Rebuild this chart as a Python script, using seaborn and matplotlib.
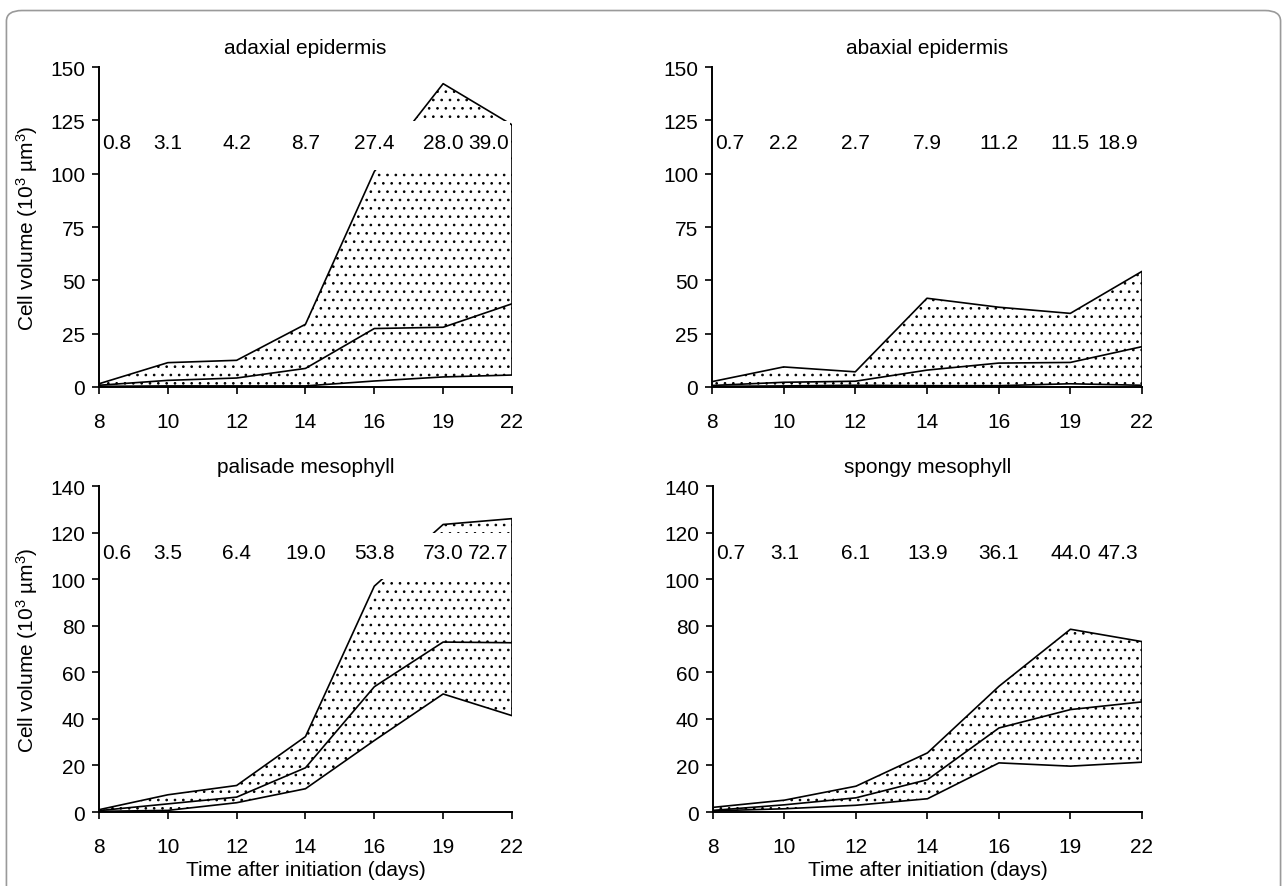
import numpy as np
import pandas as pd
import matplotlib
matplotlib.use('Agg')
import matplotlib.pyplot as plt
from matplotlib.patches import FancyBboxPatch
import seaborn as sns

# ─── data ────────────────────────────────────────────────
days = ["8", "10", "12", "14", "16", "19", "22"]

adaxial_upper = [1.5, 11.4, 12.5, 29.4, 101.0, 142.2, 122.9]
adaxial_median = [0.8, 3.1, 4.2, 8.7, 27.4, 28.0, 39.0]
adaxial_lower = [0.3, 0.5, 0.5, 0.5, 2.8, 4.7, 5.6]

abaxial_upper = [2.5, 9.4, 7.1, 41.6, 37.4, 34.5, 54.2]
abaxial_median = [0.7, 2.2, 2.7, 7.9, 11.2, 11.5, 18.9]
abaxial_lower = [0.3, 0.5, 0.8, 0.6, 0.6, 1.5, 0.8]

palisade_upper = [1.0, 7.4, 11.4, 32.4, 97.0, 123.5, 126.0]
palisade_median = [0.6, 3.5, 6.4, 19.0, 53.8, 73.0, 72.7]
palisade_lower = [0.3, 0.7, 4.0, 10.0, 30.7, 50.7, 41.4]

spongy_upper = [2.0, 5.1, 11.1, 25.4, 54.0, 78.5, 73.2]
spongy_median = [0.7, 3.1, 6.1, 13.9, 36.1, 44.0, 47.3]
spongy_lower = [0.5, 1.4, 2.9, 5.7, 21.1, 19.7, 21.4]

titles = ["adaxial epidermis", "abaxial epidermis", "palisade mesophyll", "spongy mesophyll"]

# ─── style ───────────────────────────────────────────────
sns.set_theme(style="ticks")
plt.rcParams['font.family'] = ['Liberation Sans', 'DejaVu Sans']
plt.rcParams['mathtext.fontset'] = 'custom'
plt.rcParams['mathtext.rm'] = 'Liberation Sans'
plt.rcParams['mathtext.it'] = 'Liberation Sans'
plt.rcParams['hatch.linewidth'] = 0.7
plt.rcParams['hatch.color'] = 'black'
for key in ['text.color', 'axes.labelcolor', 'xtick.color', 'ytick.color']:
    plt.rcParams[key] = 'black'

FS = 15

fig = plt.figure(figsize=(12.87, 8.87), dpi=100)
fig.patches.append(FancyBboxPatch((0.005, -0.05), 0.99, 1.037, boxstyle="round,pad=0,rounding_size=0.012",
                                  transform=fig.transFigure, facecolor='none',
                                  edgecolor='#9a9a9a', linewidth=1.2))

positions = [
    [0.0769, 0.5626, 0.3209, 0.3607],
    [0.5532, 0.5626, 0.3341, 0.3607],
    [0.0769, 0.0834, 0.3209, 0.3675],
    [0.5540, 0.0834, 0.3333, 0.3675],
]
panels = [
    (adaxial_upper, adaxial_median, adaxial_lower, 150, 25, (101.5, 124.5), 114.8),
    (abaxial_upper, abaxial_median, abaxial_lower, 150, 25, (101.5, 124.5), 114.8),
    (palisade_upper, palisade_median, palisade_lower, 140, 20, (100.0, 120.0), 111.4),
    (spongy_upper, spongy_median, spongy_lower, 140, 20, (100.0, 120.0), 111.4),
]

for k, (pos, (up, med, lo, ymax, ystep, band, label_y)) in enumerate(zip(positions, panels)):
    ax = fig.add_axes(pos)
    df = pd.DataFrame({"pos": np.arange(len(days)), "upper": up, "median": med, "lower": lo})

    ax.fill_between(df["pos"], df["lower"], df["upper"], facecolor='white',
                    edgecolor='black', hatch='..', linewidth=0, zorder=1)
    for col in ["upper", "median", "lower"]:
        sns.lineplot(data=df, x="pos", y=col, ax=ax, color='black', linewidth=1.2, zorder=2)

    # white strip behind the value labels
    ax.axhspan(band[0], band[1], xmin=0.005, xmax=0.995, color='white', zorder=2.2, linewidth=0)
    last = df.iloc[-1]
    ax.vlines(last["pos"], last["lower"], last["upper"], color='black', linewidth=1.2, zorder=2.3)

    n = len(days)
    for i, v in enumerate(med):
        ha = 'left' if i == 0 else ('right' if i == n - 1 else 'center')
        dx = 0.05 if i == 0 else (-0.05 if i == n - 1 else 0)
        ax.text(i + dx, label_y, f"{v:.1f}", ha=ha, va='center', fontsize=FS, zorder=3)

    ax.set_xlim(0, n - 1)
    ax.set_ylim(0, ymax)
    ax.set_xticks(np.arange(n))
    ax.set_xticklabels(days)
    ax.set_yticks(np.arange(0, ymax + 1, ystep))
    ax.tick_params(axis='x', length=5, width=1.2, pad=13, labelsize=FS)
    ax.tick_params(axis='y', length=5, width=1.2, pad=5, labelsize=FS)
    for s in ['left', 'bottom']:
        ax.spines[s].set_linewidth(1.4)
        ax.spines[s].set_color('black')
    sns.despine(ax=ax)
    ax.set_title(titles[k], fontsize=FS, pad=10)

    ax.set_xlabel("Time after initiation (days)" if k >= 2 else "", fontsize=FS, labelpad=3)
    ax.set_ylabel("Cell volume (10$^{3}$ µm$^{3}$)" if k % 2 == 0 else "", fontsize=FS, labelpad=7)
    ax.set_facecolor('white')

fig.savefig("out.png", dpi=100, facecolor='white')
